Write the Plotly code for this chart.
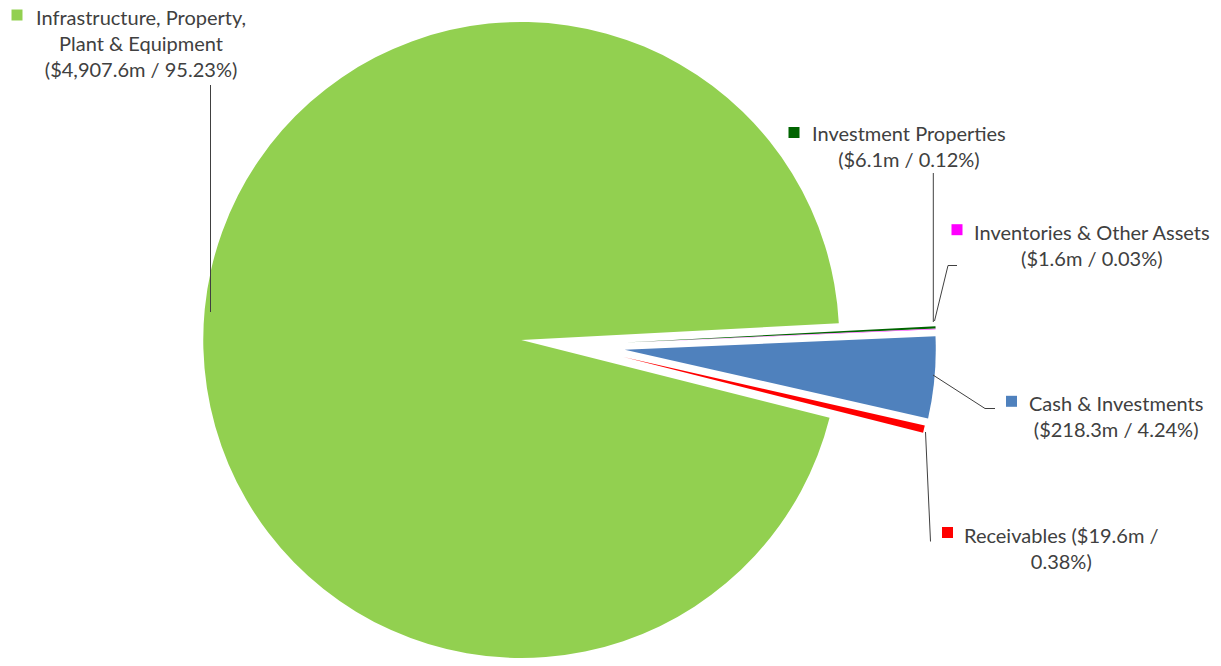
import math
import plotly.graph_objects as go

# ---------------- data ----------------
categories = ["Investment Properties", "Inventories & Other Assets", "Cash & Investments",
              "Receivables", "Infrastructure, Property, Plant & Equipment"]
values_m = [6.1, 1.6, 218.3, 19.6, 4907.6]
percents = [0.12, 0.03, 4.24, 0.38, 95.23]
colors = ["#006400", "#FF00FF", "#4F81BD", "#FF0000", "#92D050"]


def money(i):
    return f"(${values_m[i]:,.1f}m / {percents[i]:.2f}%)"


label_texts = [
    f"Investment Properties<br>{money(0)}",
    f"Inventories & Other Assets<br>{money(1)}",
    f"Cash & Investments<br>{money(2)}",
    f"Receivables (${values_m[3]:,.1f}m /<br>{percents[3]:.2f}%)",
    f"Infrastructure, Property,<br>Plant & Equipment<br>{money(4)}",
]

# ---------------- layout geometry (pixels) ----------------
W, H = 1221, 666
ROT = 87.0                 # start angle of first slice, clockwise from 12 o'clock
PIE_C = (573.0, 345.0)     # common pie centre before explosion
EXPLODE = 52.0             # explosion distance in px
R_BIG, R_SMALL = 318.0, 311.0

total = sum(values_m)
n = len(values_m)


def px2paper(x, y):
    return x / W, 1 - y / H


fig = go.Figure()
cum = 0.0
traces = []
for i, v in enumerate(values_m):
    mid = ROT + 360.0 * (cum + v / 2) / total
    cum += v
    a = math.radians(mid)
    cx = PIE_C[0] + EXPLODE * math.sin(a)
    cy = PIE_C[1] - EXPLODE * math.cos(a)
    r = R_BIG if i == n - 1 else R_SMALL
    r = min(r, cx, W - cx, cy, H - cy) - 0.01
    dom_x = [max(0, (cx - r) / W), min(1, (cx + r) / W)]
    dom_y = [max(0, 1 - (cy + r) / H), min(1, 1 - (cy - r) / H)]
    fills = [colors[j] if j == i else "rgba(0,0,0,0)" for j in range(n)]
    traces.append(go.Pie(
        labels=categories, values=values_m, sort=False, direction="clockwise",
        rotation=ROT, marker=dict(colors=fills, line=dict(width=0)),
        textinfo="none", showlegend=False, domain=dict(x=dom_x, y=dom_y),
        hovertemplate="%{label}<br>$%{value:,.1f}m (%{percent})<extra></extra>",
    ))
# draw big slice first
fig.add_trace(traces[-1])
for t in traces[:-1]:
    fig.add_trace(t)

# label positions (centre of text block), legend key centres, leader lines
label_pos = [(909, 146), (1091.5, 244.5), (1115.7, 416), (1061, 548), (140.5, 43)]
key_pos = [(794, 132.5), (957, 229.7), (1011.5, 401.3), (947.5, 532.5), (17, 15)]
leaders = [
    [(933.3, 173), (933.3, 322)],
    [(934.5, 321), (948, 265.5), (957, 265.5)],
    [(933, 375), (985, 408.5), (995, 408.5)],
    [(925.5, 432), (930.5, 541.5)],
    [(210.5, 85), (210.5, 312)],
]

FONT = dict(family="Lato, 'Liberation Sans', sans-serif", size=20, color="#404040")
annotations = []
shapes = []
KEY = 11
for i in range(n):
    x, y = px2paper(*label_pos[i])
    annotations.append(dict(x=x, y=y, xref="paper", yref="paper", text=label_texts[i],
                            showarrow=False, xanchor="center", yanchor="middle",
                            align="center", font=FONT))
    kx, ky = key_pos[i]
    x0, y0 = px2paper(kx - KEY / 2, ky + KEY / 2)
    x1, y1 = px2paper(kx + KEY / 2, ky - KEY / 2)
    shapes.append(dict(type="rect", xref="paper", yref="paper", x0=x0, y0=y0, x1=x1, y1=y1,
                       fillcolor=colors[i], line=dict(width=0)))
    pts = leaders[i]
    for p, q in zip(pts[:-1], pts[1:]):
        ax, ay = px2paper(*p)
        bx, by = px2paper(*q)
        shapes.append(dict(type="line", xref="paper", yref="paper", x0=ax, y0=ay, x1=bx, y1=by,
                           line=dict(color="#404040", width=1)))

fig.update_layout(
    width=W, height=H, margin=dict(l=0, r=0, t=0, b=0),
    paper_bgcolor="white", plot_bgcolor="white",
    annotations=annotations, shapes=shapes, showlegend=False,
)

fig.write_html("out.html")
